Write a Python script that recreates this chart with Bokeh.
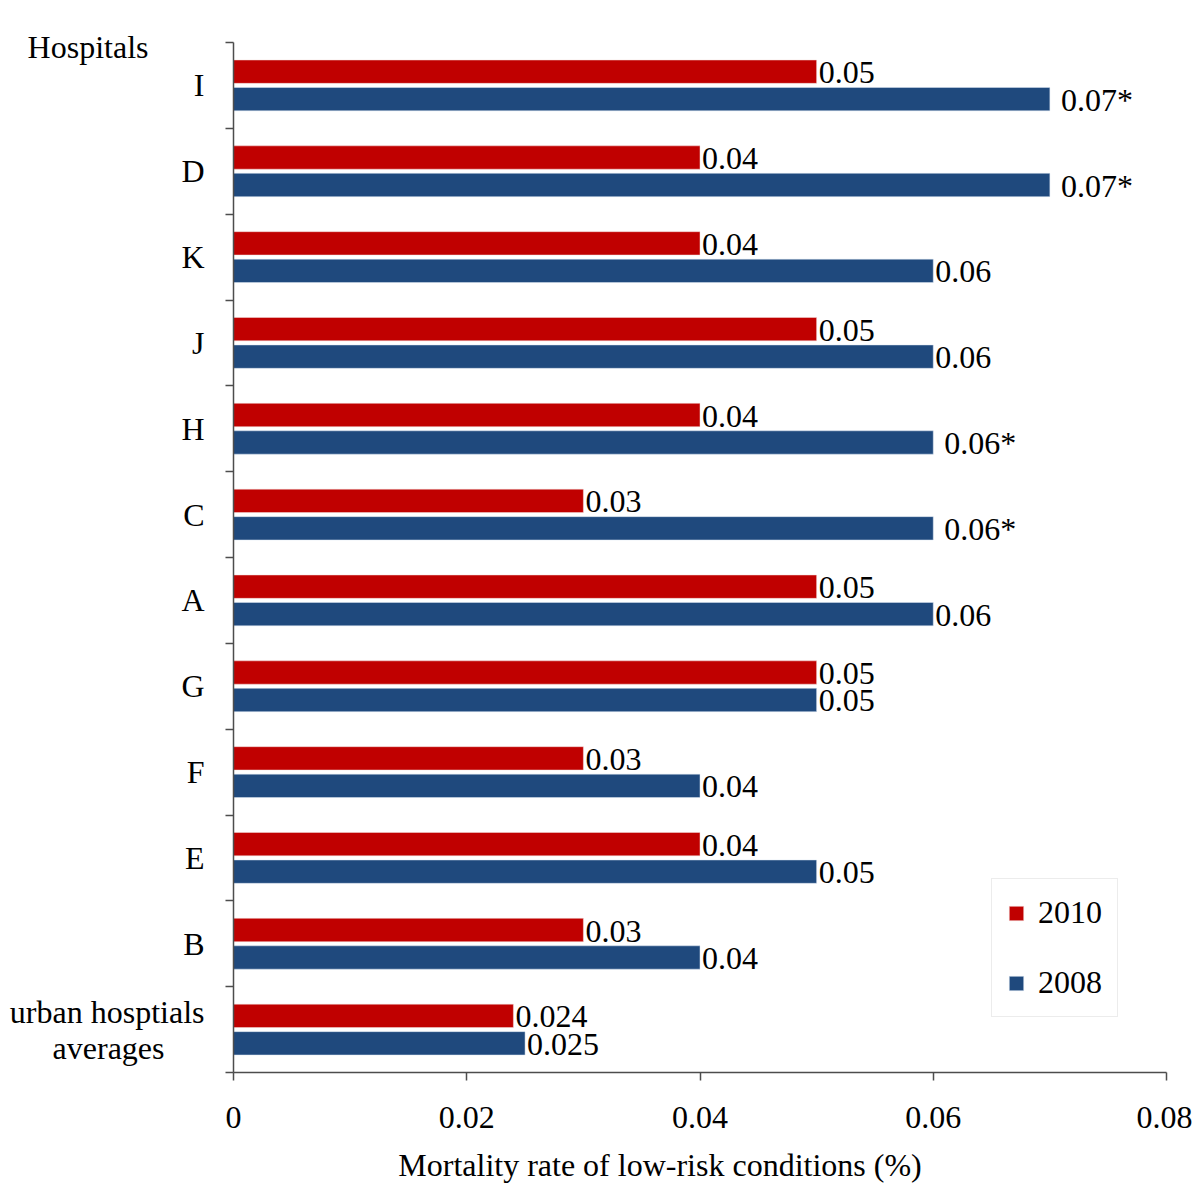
from bokeh.plotting import figure
from bokeh.models import (Range1d, FixedTicker, Legend, LegendItem, ColumnDataSource)
from bokeh.core.properties import value
from bokeh.embed import file_html
from bokeh.resources import INLINE

# ---- data (bottom to top) ----
categories = ["urban hosptials\naverages", "B", "E", "F", "G", "A", "C", "H", "J", "K", "D", "I"]
values_2010 = [0.024, 0.03, 0.04, 0.03, 0.05, 0.05, 0.03, 0.04, 0.05, 0.04, 0.04, 0.05]
values_2008 = [0.025, 0.04, 0.05, 0.04, 0.05, 0.06, 0.06, 0.06, 0.06, 0.06, 0.07, 0.07]
labels_2010 = ["0.024", "0.03", "0.04", "0.03", "0.05", "0.05", "0.03", "0.04", "0.05", "0.04", "0.04", "0.05"]
labels_2008 = ["0.025", "0.04", "0.05", "0.04", "0.05", "0.06", "0.06*", "0.06*", "0.06", "0.06", "0.07*", "0.07*"]
series_names = ["2010", "2008"]
x_ticks = [0, 0.02, 0.04, 0.06, 0.08]
x_tick_labels = ["0", "0.02", "0.04", "0.06", "0.08"]
x_title = "Mortality rate of low-risk conditions (%)"
y_title = "Hospitals"

FONT = "Liberation Serif"
FS = "32px"
RED = "#C00000"
BLUE = "#1F497D"
AXC = "#4d4d4d"
NB = "\u00a0"

n = len(categories)
centers = [i + 0.5 for i in range(n)]
off = 0.16
bar_h = 0.272

# visual centring of the two-line label (non-breaking-space padding)
disp_categories = [c.replace("\naverages", "\naverages" + NB * 5) for c in categories]

p = figure(width=1192, height=1192, output_backend="svg", toolbar_location=None,
           x_range=Range1d(0, 0.08), y_range=Range1d(0, n),
           min_border_left=233, min_border_right=26, min_border_top=42, min_border_bottom=120)
p.outline_line_color = None
p.xgrid.visible = False
p.ygrid.visible = False
p.background_fill_color = "white"
p.border_fill_color = "white"

src10 = ColumnDataSource(dict(y=[c + off for c in centers], right=values_2010, lab=labels_2010,
                              xo=[11 if l.endswith("*") else 2 for l in labels_2010]))
src08 = ColumnDataSource(dict(y=[c - off for c in centers], right=values_2008, lab=labels_2008,
                              xo=[11 if l.endswith("*") else 2 for l in labels_2008]))

r10 = p.hbar(y="y", left=0, right="right", height=bar_h, source=src10,
             fill_color=RED, line_color="#f2dcdb", line_width=0.5)
r08 = p.hbar(y="y", left=0, right="right", height=bar_h, source=src08,
             fill_color=BLUE, line_color="#dce6f2", line_width=0.5)

for src in (src10, src08):
    p.text(x="right", y="y", text="lab", source=src, x_offset="xo", y_offset=1,
           text_font=value(FONT), text_font_size=FS, text_color="black",
           text_align="left", text_baseline="middle")

# x axis
xa = p.xaxis[0]
xa.ticker = FixedTicker(ticks=x_ticks)
xa.major_label_overrides = {t: l for t, l in zip(x_ticks, x_tick_labels)}
xa.axis_label = x_title + NB * 10
xa.axis_label_text_font = FONT
xa.axis_label_text_font_size = FS
xa.axis_label_text_font_style = "normal"
xa.axis_label_text_color = "black"
xa.axis_label_standoff = 16
xa.major_label_text_font = FONT
xa.major_label_text_font_size = FS
xa.major_label_text_color = "black"
xa.major_label_standoff = 26
xa.major_tick_out = 8
xa.major_tick_in = 0
xa.minor_tick_line_color = None
xa.axis_line_color = AXC
xa.axis_line_width = 1.5
xa.major_tick_line_color = AXC
xa.major_tick_line_width = 1.5

# y axis (category names at centres, boundary ticks as minor ticks, title as top label)
title_pos = n - 0.05
ya = p.yaxis[0]
ya.ticker = FixedTicker(ticks=centers + [title_pos], minor_ticks=list(range(n + 1)))
overrides = {c: l for c, l in zip(centers, disp_categories)}
overrides[title_pos] = y_title + NB * 7
ya.major_label_overrides = overrides
ya.major_label_text_font = FONT
ya.major_label_text_font_size = FS
ya.major_label_text_color = "black"
ya.major_label_text_line_height = 1.0
ya.major_tick_line_color = None
ya.major_tick_out = 0
ya.major_tick_in = 0
ya.major_label_standoff = 21
ya.minor_tick_out = 8
ya.minor_tick_in = 0
ya.minor_tick_line_color = AXC
ya.minor_tick_line_width = 1.5
ya.axis_line_color = AXC
ya.axis_line_width = 1.5

legend = Legend(items=[LegendItem(label=series_names[0], renderers=[r10]),
                       LegendItem(label=series_names[1], renderers=[r08])],
                location=(758, 55), orientation="vertical",
                label_text_font=FONT, label_text_font_size=FS, label_text_color="black",
                glyph_width=18, glyph_height=18, label_standoff=13,
                spacing=33, padding=15, margin=0,
                border_line_color="#d9d9d9", border_line_width=1,
                background_fill_color="white")
p.add_layout(legend)

open("out.html", "w").write(file_html(p, INLINE))
